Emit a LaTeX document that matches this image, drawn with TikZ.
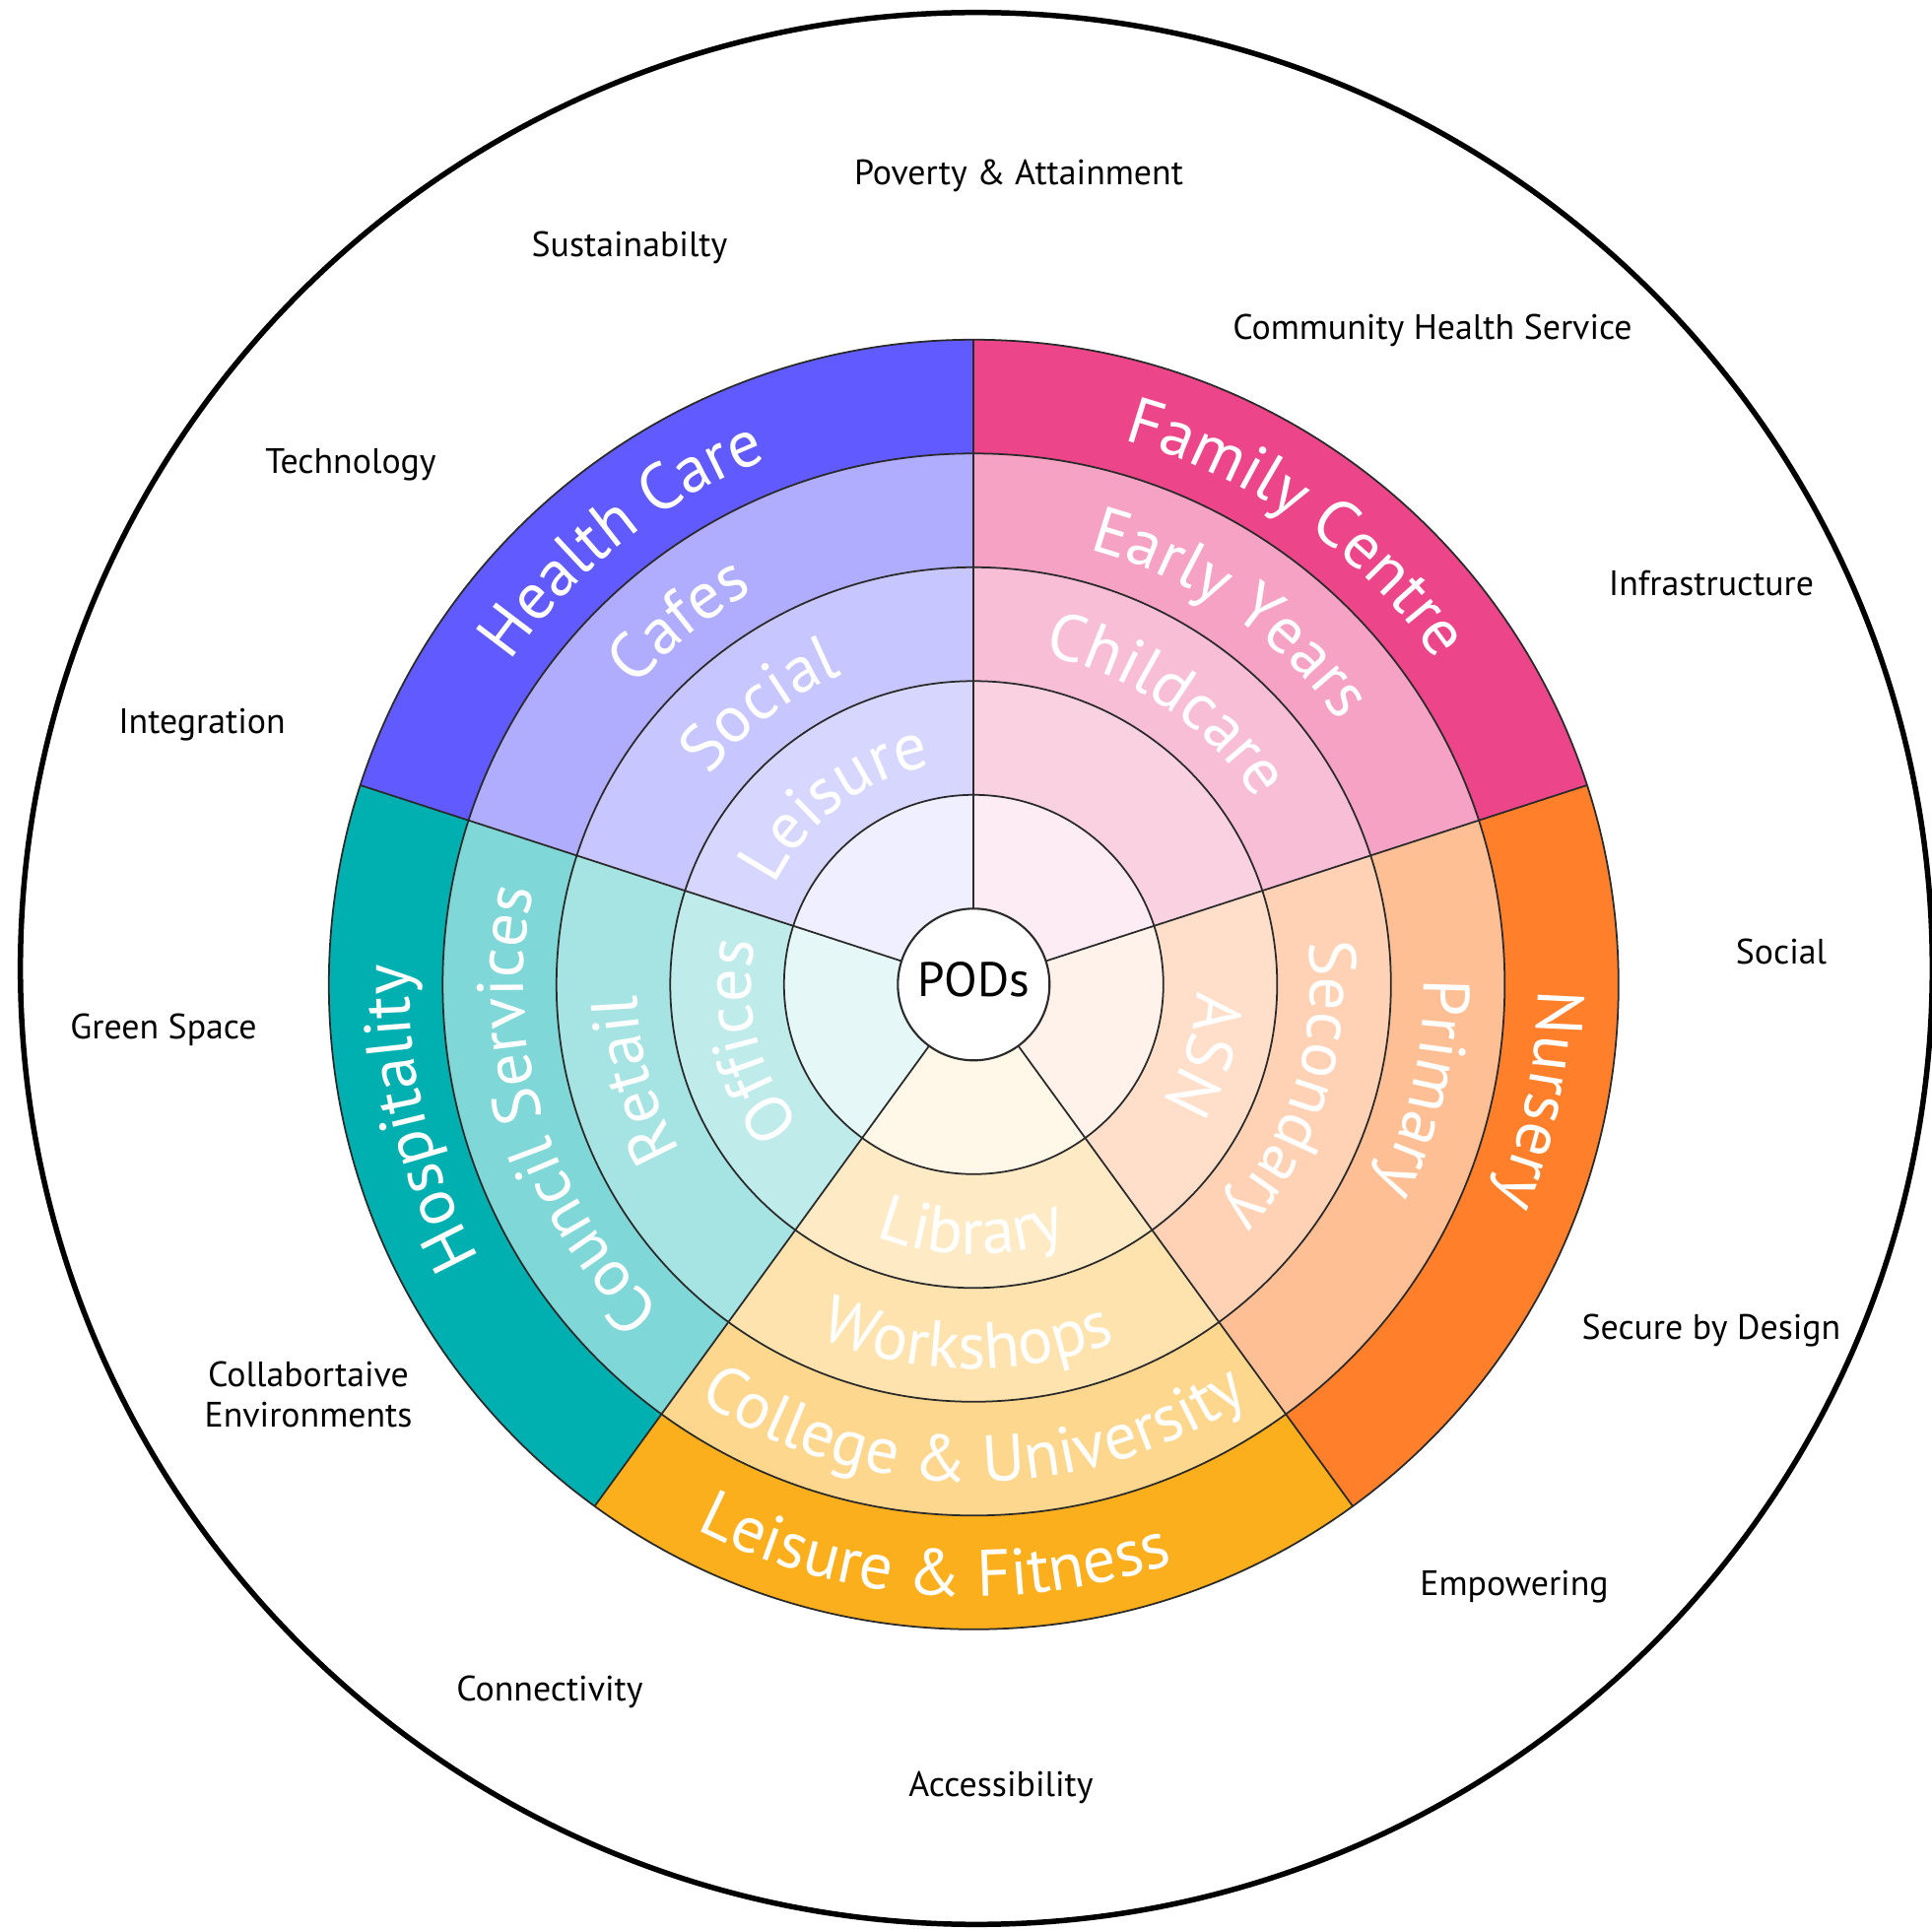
\documentclass[tikz,border=0pt]{standalone}
\usepackage{fontspec}
\setmainfont{PT Sans}
\usetikzlibrary{decorations.text}

\definecolor{hcare}{HTML}{615BFF}
\definecolor{hosp}{HTML}{00B0B0}
\definecolor{leis}{HTML}{FCAF1C}
\definecolor{nurs}{HTML}{FF7F2A}
\definecolor{fam}{HTML}{EC4589}
\definecolor{rimline}{HTML}{2A2A2A}

\newcommand\ringfont{\fontsize{19}{23}\selectfont}

% one annular band of a sector: start angle, inner radius, outer radius, colour
\newcommand\sectorband[4]{%
  \fill[#4] (#1:#2) -- (#1:#3) arc[start angle=#1,end angle={#1+72},radius=#3]
    -- ({#1+72}:#2) arc[start angle={#1+72},end angle=#1,radius=#2] -- cycle;}

% a whole sector with tints of its base colour, darkest outside
\newcommand\wheelsector[2]{%
  \sectorband{#1}{0.77}{1.925}{#2!10}
  \sectorband{#1}{1.925}{3.08}{#2!25}
  \sectorband{#1}{3.08}{4.235}{#2!35}
  \sectorband{#1}{4.235}{5.39}{#2!50}
  \sectorband{#1}{5.39}{6.545}{#2}}

% white text on a clockwise arc (letters facing outwards): centre angle, baseline radius, text
\newcommand\cwtext[3]{%
  \path[decorate,decoration={text along path,text align=center,text color=white,
      text={|\ringfont|#3}}]
    ({#1+60}:#2) arc[start angle={#1+60},end angle={#1-60},radius=#2];}

% white text on an anticlockwise arc (letters facing inwards)
\newcommand\ccwtext[3]{%
  \path[decorate,decoration={text along path,text align=center,text color=white,
      text={|\ringfont|#3}}]
    ({#1-60}:#2) arc[start angle={#1-60},end angle={#1+60},radius=#2];}

\tikzset{
  theme/.style={anchor=base,font=\fontsize{10.2}{13}\selectfont,text=black,inner sep=0pt},
  ringline/.style={draw=rimline,line width=0.5pt}
}

\begin{document}
\begin{tikzpicture}
\fill[white] (-9.883,-9.587) rectangle (9.727,9.993);
\useasboundingbox (-9.883,-9.587) rectangle (9.727,9.993);

% outer boundary
\draw[line width=0.055cm] (0.027,0.163) circle[radius=9.703];

% coloured sectors
\wheelsector{90}{hcare}
\wheelsector{162}{hosp}
\wheelsector{234}{leis}
\wheelsector{-54}{nurs}
\wheelsector{18}{fam}

% ring outlines and dividers
\foreach \r in {1.925,3.08,4.235,5.39,6.545}
  \draw[ringline] (0,0) circle[radius=\r];
\foreach \a in {90,162,234,306,18}
  \draw[ringline] (\a:0.77) -- (\a:6.545);

% centre
\node[circle,draw=rimline,line width=0.6pt,fill=white,minimum size=1.54cm,inner sep=0pt] (pods) at (0,0) {};
\node[font=\fontsize{14}{17}\selectfont,inner sep=0pt] (podslabel) at (0,0.05) {PODs};

% Health Care sector
\cwtext{128.3}{5.73}{Health Care}
\cwtext{129}{4.57}{Cafes}
\cwtext{127.3}{3.42}{Social}
\cwtext{127.3}{2.26}{Leisure}

% Family Centre sector
\cwtext{54.8}{5.73}{Family Centre}
\cwtext{55.4}{4.57}{Early Years}
\cwtext{55.5}{3.42}{Childcare}

% Nursery sector
\cwtext{-11.5}{5.73}{Nursery}
\cwtext{-13}{4.57}{Primary}
\cwtext{-17.5}{3.42}{Secondary}
\cwtext{-17}{2.26}{ASN}

% Hospitality sector
\cwtext{193.5}{5.73}{Hospitality}
\cwtext{197}{4.57}{Council Services}
\cwtext{195.7}{3.42}{Retail}
\cwtext{194}{2.26}{Offices}

% Leisure & Fitness sector
\ccwtext{-94}{6.21}{Leisure {\&} Fitness}
\ccwtext{-90}{5.05}{College {\&} University}
\ccwtext{-91}{3.90}{Workshops}
\ccwtext{-90.5}{2.74}{Library}

% themes around the wheel
\node[theme] (t1) at (0.457,8.113) {Poverty \& Attainment};
\node[theme] (t2) at (-3.493,7.383) {Sustainabilty};
\node[theme] (t3) at (4.657,6.543) {Community Health Service};
\node[theme] (t4) at (-6.323,5.183) {Technology};
\node[theme] (t5) at (7.487,3.943) {Infrastructure};
\node[theme] (t6) at (-7.833,2.543) {Integration};
\node[theme] (t7) at (8.197,0.203) {Social};
\node[theme] (t8) at (-8.223,-0.557) {Green Space};
\node[theme] (t9) at (7.487,-3.597) {Secure by Design};
\node[theme] (t10a) at (-6.753,-4.077) {Collabortaive};
\node[theme] (t10b) at (-6.753,-4.487) {Environments};
\node[theme] (t11) at (5.487,-6.197) {Empowering};
\node[theme] (t12) at (-4.303,-7.267) {Connectivity};
\node[theme] (t13) at (0.277,-8.237) {Accessibility};
\end{tikzpicture}
\end{document}
